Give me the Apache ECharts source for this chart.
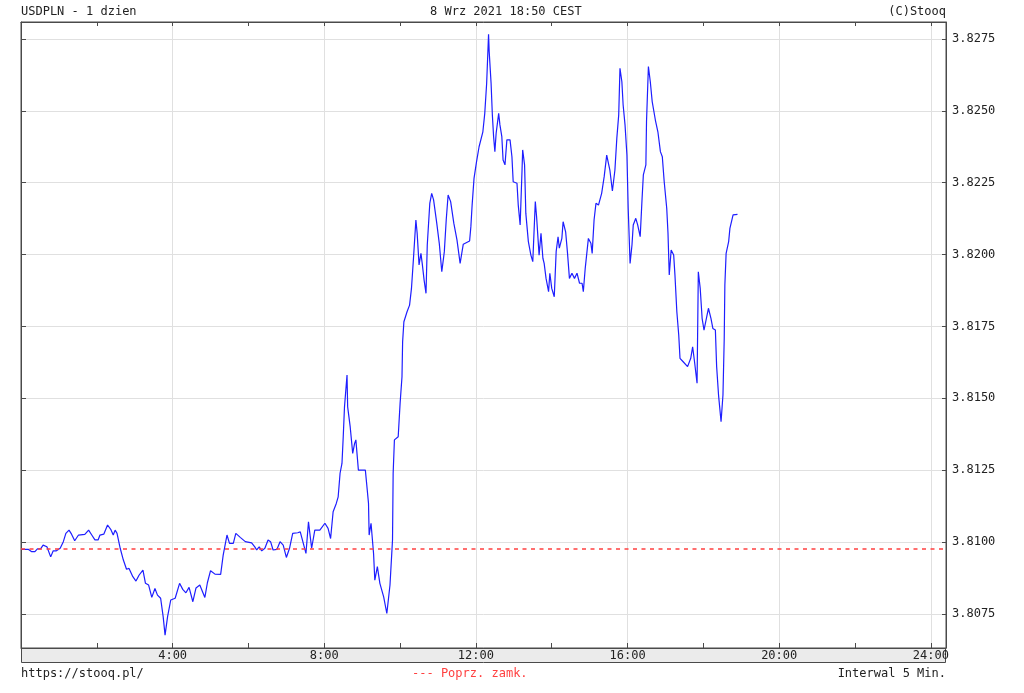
<!DOCTYPE html>
<html><head><meta charset="utf-8">
<script src="https://cdn.jsdelivr.net/npm/echarts@6/dist/echarts.min.js"></script>
<style>html,body{margin:0;padding:0;background:#fff}#c{width:1024px;height:693px}</style>
</head><body><div id="c"></div>
<script>
// minutes since midnight (5-min quotes)
const minutes = [
  1,12,17,22,26,31,35,41,47,51,
  56,62,67,71,76,80,85,91,101,107,
  112,117,122,125,131,137,142,146,149,152,
  157,162,167,171,177,182,187,193,197,202,
  207,212,216,221,225,228,232,237,244,251,
  256,261,266,272,277,283,291,295,300,307,
  316,320,326,330,336,340,347,355,365,370,
  373,377,381,386,391,395,399,405,410,415,
  420,425,430,438,
  442,451,455,460,465,473,481,486,490,494,
  499,502,505,508,510,512,516,517,521,525,
  528,530,534,545,547,550,551,554,558,560,
  564,568,574,579,584,588,589,591,597,600,
  603,604,606,611,615,618,621,625,627,630,
  633,635,638,641,643,647,650,653,658,662,
  666,670,673,676,680,685,690,695,
  700,710,712,714,717,721,725,731,734,737,
  740,741,744,746,748,750,752,756,758,761,
  763,766,769,774,777,779,785,787,790,793,
  794,797,799,803,807,810,814,816,820,823,
  826,828,831,835,837,840,844,847,850,852,
  856,858,862,865,868,872,876,880,884,888,
  890,893,898,902,904,907,910,914,919,923,
  927,
  932,936,940,943,946,948,951,953,956,959,
  961,964,967,969,973,976,980,983,985,989,
  990,993,996,999,1004,1008,1012,1015,1018,1022,
  1024,1026,1029,1033,1035,1038,1041,1043,1048,1055,
  1060,1063,1066,1070,1072,1075,1078,1081,1084,1088,
  1092,1095,1099,1101,1104,1108,1111,1113,1114,1116,
  1120,1122,1127,1130,1134
];
const prices = [
  3.80974,3.80974,3.80966,3.80966,3.80976,3.80976,3.80989,3.80983,3.80948,3.80969,
  3.80969,3.80978,3.81001,3.81030,3.81041,3.81027,3.81004,3.81024,3.81026,3.81041,
  3.81024,3.81007,3.81007,3.81024,3.81027,3.81059,3.81044,3.81024,3.81041,3.81030,
  3.80978,3.80937,3.80905,3.80908,3.80879,3.80864,3.80885,3.80902,3.80856,3.80850,
  3.80807,3.80838,3.80815,3.80804,3.80740,3.80676,3.80740,3.80798,3.80804,3.80856,
  3.80835,3.80823,3.80842,3.80792,3.80840,3.80850,3.80807,3.80858,3.80900,3.80888,
  3.80887,3.80954,3.81024,3.80995,3.80995,3.81030,3.81016,3.81001,3.80997,3.80983,
  3.80972,3.80983,3.80969,3.80978,3.81007,3.81001,3.80972,3.80974,3.81001,3.80989,
  3.80946,3.80978,3.81030,3.81032,
  3.81035,3.80960,3.81070,3.80978,3.81041,3.81041,3.81065,3.81047,3.81012,3.81105,
  3.81134,3.81157,3.81239,3.81273,3.81366,3.81470,3.81581,3.81470,3.81401,3.81308,
  3.81343,3.81355,3.81250,3.81250,3.81204,3.81134,3.81024,3.81065,3.80960,3.80867,
  3.80914,3.80856,3.80809,3.80751,3.80850,3.81007,3.81239,3.81355,3.81366,3.81482,
  3.81575,3.81697,3.81766,3.81801,3.81824,3.81882,3.81981,3.82120,3.82074,3.81964,
  3.82004,3.81969,3.81911,3.81865,3.82033,3.82178,3.82213,3.82190,3.82109,3.82039,
  3.81940,3.82010,3.82120,3.82207,3.82184,3.82109,3.82051,3.81969,
  3.82036,3.82047,3.82097,3.82172,3.82265,3.82323,3.82375,3.82427,3.82491,3.82596,
  3.82766,3.82706,3.82596,3.82486,3.82410,3.82358,3.82422,3.82491,3.82451,3.82410,
  3.82329,3.82312,3.82399,3.82399,3.82340,3.82253,3.82248,3.82172,3.82103,3.82294,
  3.82364,3.82312,3.82143,3.82045,3.81998,3.81975,3.82184,3.82132,3.81998,3.82074,
  3.81987,3.81969,3.81917,3.81871,3.81935,3.81882,3.81853,3.82010,3.82062,3.82022,
  3.82056,3.82114,3.82079,3.82004,3.81917,3.81935,3.81917,3.81935,3.81900,3.81900,
  3.81871,3.81952,3.82056,3.82039,3.82004,3.82120,3.82178,3.82172,3.82213,3.82271,
  3.82346,
  3.82294,3.82221,3.82294,3.82404,3.82486,3.82648,3.82601,3.82520,3.82451,3.82346,
  3.82161,3.81969,3.82033,3.82103,3.82126,3.82103,3.82062,3.82196,3.82277,3.82312,
  3.82462,3.82654,3.82601,3.82532,3.82468,3.82427,3.82358,3.82340,3.82253,3.82161,
  3.82074,3.81929,3.82016,3.81998,3.81929,3.81801,3.81720,3.81639,3.81627,3.81610,
  3.81639,3.81679,3.81627,3.81552,3.81940,3.81882,3.81778,3.81737,3.81731,3.81813,
  3.81778,3.81743,3.81737,3.81610,3.81511,3.81418,3.81511,3.81708,3.81894,3.82004,
  3.82045,3.82091,3.82138,3.82143,3.82140
];
const prevClose = 3.80975;
const yTicks = [3.8075, 3.8100, 3.8125, 3.8150, 3.8175, 3.8200, 3.8225, 3.8250, 3.8275];
const yRange = [3.80631, 3.82809];
const xRange = [0, 1464];
const titleLeft = 'USDPLN - 1 dzien';
const titleCenter = '8 Wrz 2021 18:50 CEST';
const titleRight = '(C)Stooq';
const footLeft = 'https://stooq.pl/';
const footCenter = '--- Poprz. zamk.';
const footRight = 'Interwal 5 Min.';

const FONT = '"DejaVu Sans Mono","Liberation Mono",monospace';
const AX = '#4a4a4a';
const GRIDC = '#e0e0e0';
const RED = '#ff4040';
const chart = echarts.init(document.getElementById('c'), null, {renderer:'canvas'});

function txt(text, x, y, align, color) {
  return {type:'text', z:10, style:{text:text, x:x, y:y, font:'12px ' + FONT, fill:color || '#222',
    align:align, verticalAlign:'middle', textAlign:align, textVerticalAlign:'middle'}};
}

const xBase = {
  type:'value', min:xRange[0], max:xRange[1], interval:240,
  axisLine:{show:true, onZero:false, lineStyle:{color:AX, width:1}},
  axisTick:{show:true, inside:true, length:5, lineStyle:{color:AX}},
  minorTick:{show:true, splitNumber:2, length:5, lineStyle:{color:AX}}
};

const option = {
  animation:false,
  backgroundColor:'#ffffff',
  textStyle:{fontFamily:FONT},
  grid:{left:21, right:78, top:22, bottom:45, show:true, borderColor:AX, borderWidth:1, backgroundColor:'#fff'},
  xAxis:[
    Object.assign({}, xBase, {
      position:'bottom',
      axisLabel:{show:true, margin:2, fontSize:12, color:'#222', fontFamily:FONT,
        showMinLabel:false, showMaxLabel:false, formatter:function(v){ return (v/60) + ':00'; }},
      splitLine:{show:true, lineStyle:{color:GRIDC, width:1}}
    }),
    Object.assign({}, xBase, {
      position:'top',
      axisTick:{show:true, inside:true, length:4, lineStyle:{color:AX}},
      minorTick:{show:true, splitNumber:2, length:4, lineStyle:{color:AX}},
      axisLabel:{show:false}, splitLine:{show:false}
    })
  ],
  yAxis:[{
    type:'value', position:'right', min:yRange[0], max:yRange[1],
    axisLine:{show:true, onZero:false, lineStyle:{color:AX, width:1}},
    axisTick:{show:true, inside:true, length:4, customValues:yTicks, lineStyle:{color:AX}},
    axisLabel:{show:true, margin:6, customValues:yTicks, fontSize:12, color:'#222', fontFamily:FONT,
      formatter:function(v){ return v.toFixed(4); }},
    splitLine:{show:true, lineStyle:{color:GRIDC, width:1}}
  },{
    type:'value', position:'left', min:yRange[0], max:yRange[1],
    axisLine:{show:true, onZero:false, lineStyle:{color:AX, width:1}},
    axisTick:{show:true, inside:true, length:5, customValues:yTicks, lineStyle:{color:AX}},
    axisLabel:{show:false, customValues:yTicks},
    splitLine:{show:false}
  }],
  series:[{
    type:'line', xAxisIndex:0, yAxisIndex:0,
    data: minutes.map(function(m,i){ return [m, prices[i]]; }),
    showSymbol:false, symbol:'none', clip:true,
    lineStyle:{color:'#1e1eff', width:1.2},
    markLine:{silent:true, symbol:['none','none'], precision:5, label:{show:false},
      lineStyle:{color:RED, type:[4,4.5], width:1.5},
      data:[{yAxis:prevClose}]}
  }],
  graphic:{elements:[
    {type:'rect', z:-1, shape:{x:21.5, y:648.5, width:924, height:14},
     style:{fill:'#ebebeb', stroke:AX, lineWidth:1}},
    txt(titleLeft, 21, 12, 'left'),
    txt(titleCenter, 430, 12, 'left'),
    txt(titleRight, 946, 12, 'right'),
    txt(footLeft, 21, 674, 'left'),
    txt(footCenter, 412, 674, 'left', RED),
    txt(footRight, 946, 674, 'right')
  ]}
};
chart.setOption(option);
</script></body></html>
